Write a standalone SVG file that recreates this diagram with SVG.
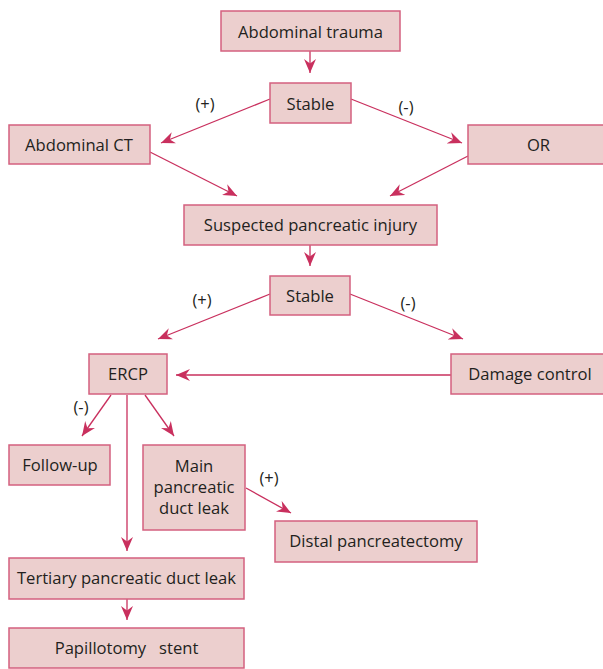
<svg xmlns="http://www.w3.org/2000/svg" width="603" height="669" viewBox="0 0 603 669">
<style>
.box{fill:#eccfce;stroke:#d4607f;stroke-width:1.5}
.t{font-family:"Open Sans","Liberation Sans",sans-serif;font-size:16.6px;fill:#231f20;text-anchor:middle}
.lbl{font-family:"Open Sans","Liberation Sans",sans-serif;font-size:16.5px;fill:#231f20;text-anchor:middle}
.c{stroke:#c9305e;stroke-width:1.3;fill:none;marker-end:url(#ah)}
</style>
<defs>
<marker id="ah" markerUnits="userSpaceOnUse" viewBox="0 0 14 12" refX="14" refY="6" markerWidth="14" markerHeight="12" orient="auto">
<path d="M0,0 L14,6 L0,12 L4.5,6 z" fill="#c9305e"/>
</marker>
</defs>
<rect width="603" height="669" fill="#ffffff"/>
<g id="connectors">
<line class="c" x1="310" y1="51" x2="310" y2="73"/>
<line class="c" x1="270" y1="99" x2="161" y2="143"/>
<line class="c" x1="351" y1="99" x2="462" y2="143"/>
<line class="c" x1="150" y1="152" x2="237" y2="196"/>
<line class="c" x1="468" y1="156" x2="390" y2="196"/>
<line class="c" x1="310" y1="245" x2="310" y2="266"/>
<line class="c" x1="270" y1="294" x2="158" y2="339"/>
<line class="c" x1="350" y1="294" x2="463" y2="339"/>
<line class="c" x1="451" y1="375" x2="176" y2="375"/>
<line class="c" x1="111" y1="395" x2="82" y2="436"/>
<line class="c" x1="127" y1="395" x2="127" y2="551"/>
<line class="c" x1="145" y1="395" x2="174" y2="436"/>
<line class="c" x1="246" y1="488" x2="291" y2="513"/>
<line class="c" x1="127" y1="599" x2="127" y2="620"/>
<text class="lbl" x="205" y="110">(+)</text>
<text class="lbl" x="406" y="113">(-)</text>
<text class="lbl" x="202" y="306">(+)</text>
<text class="lbl" x="408" y="309">(-)</text>
<text class="lbl" x="81" y="413">(-)</text>
<text class="lbl" x="269" y="484">(+)</text>
</g>
<g id="n_trauma"><rect class="box" x="221" y="11" width="179" height="40"/><text class="t" x="310.5" y="38">Abdominal trauma</text></g>
<g id="n_stable1"><rect class="box" x="270" y="83" width="81" height="40"/><text class="t" x="310.5" y="110">Stable</text></g>
<g id="n_ct"><rect class="box" x="9" y="125" width="141" height="39"/><text class="t" x="79" y="151">Abdominal CT</text></g>
<g id="n_or"><rect class="box" x="468" y="125" width="141" height="39"/><text class="t" x="538.5" y="151">OR</text></g>
<g id="n_suspected"><rect class="box" x="184" y="205" width="253" height="40"/><text class="t" x="310.5" y="231">Suspected pancreatic injury</text></g>
<g id="n_stable2"><rect class="box" x="270" y="276" width="80" height="39"/><text class="t" x="310" y="302">Stable</text></g>
<g id="n_ercp"><rect class="box" x="89" y="354" width="78" height="40"/><text class="t" x="128" y="380">ERCP</text></g>
<g id="n_damage"><rect class="box" x="451" y="354" width="158" height="40"/><text class="t" x="530" y="380">Damage control</text></g>
<g id="n_followup"><rect class="box" x="9" y="445" width="101" height="40"/><text class="t" x="60" y="471">Follow-up</text></g>
<g id="n_main"><rect class="box" x="143" y="445" width="102" height="85"/><text class="t" x="194" y="472">Main</text><text class="t" x="194" y="493">pancreatic</text><text class="t" x="194" y="514">duct leak</text></g>
<g id="n_distal"><rect class="box" x="275" y="521" width="202" height="41"/><text class="t" x="376" y="547">Distal pancreatectomy</text></g>
<g id="n_tertiary"><rect class="box" x="9" y="558" width="235" height="41"/><text class="t" x="126.5" y="584">Tertiary pancreatic duct leak</text></g>
<g id="n_papillotomy"><rect class="box" x="9" y="628" width="235" height="40"/><text class="t" x="126.5" y="654" style="white-space:pre" xml:space="preserve">Papillotomy   stent</text></g>
</svg>
